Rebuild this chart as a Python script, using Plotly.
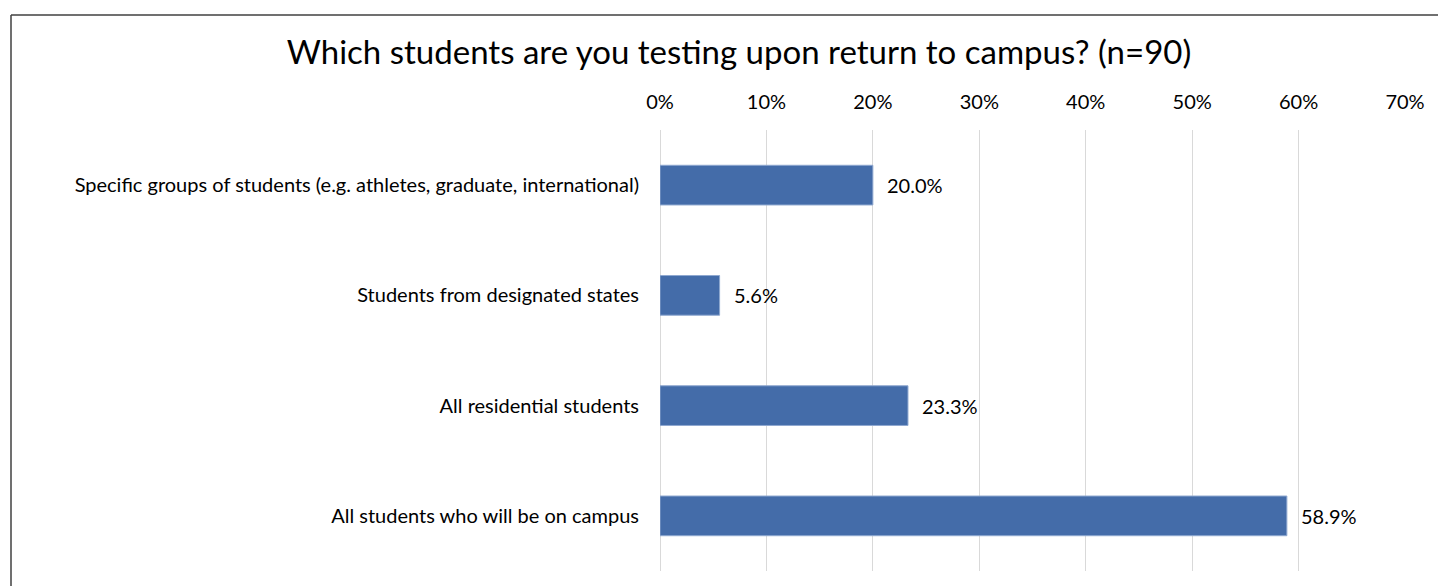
import plotly.graph_objects as go

categories = [
    "Specific groups of students (e.g. athletes, graduate, international)",
    "Students from designated states",
    "All residential students",
    "All students who will be on campus",
]
values = [20.0, 5.6, 23.3, 58.9]
tick_vals = [0, 10, 20, 30, 40, 50, 60, 70]
tick_text = ["0%", "10%", "20%", "30%", "40%", "50%", "60%", "70%"]

W, H = 1438, 586
ml, mr, mt, mb = 660, 33, 130, 15
pw = W - ml - mr
ph = H - mt - mb

FONT = "Lato"

fig = go.Figure(
    go.Bar(
        x=values,
        y=categories,
        orientation="h",
        marker=dict(color="#446CA9", line=dict(color="#8FA8D0", width=1)),
        width=0.36,
        hoverinfo="x+y",
    )
)

annotations = [
    dict(
        x=v, y=c, xref="x", yref="y",
        text=f"{v:.1f}%",
        showarrow=False,
        xanchor="left", yanchor="middle",
        xshift=12,
        font=dict(family=FONT, size=20, color="#000000"),
    )
    for c, v in zip(categories, values)
]

fig.update_layout(
    width=W,
    height=H,
    margin=dict(l=ml, r=mr, t=mt, b=mb),
    paper_bgcolor="white",
    plot_bgcolor="white",
    font=dict(family=FONT, size=20, color="#000000"),
    title=dict(
        text="Which students are you testing upon return to campus? (n=90)",
        x=739 / W,
        xanchor="center",
        y=1 - 52 / H,
        yanchor="middle",
        font=dict(family=FONT, size=33, color="#000000"),
    ),
    showlegend=False,
    annotations=annotations,
    xaxis=dict(
        side="top",
        range=[0, 70],
        tickvals=tick_vals,
        ticktext=tick_text,
        showgrid=True,
        gridcolor="#D9D9D9",
        gridwidth=1,
        zeroline=True,
        zerolinecolor="#D9D9D9",
        zerolinewidth=1,
        showline=False,
        ticks="",
        ticklabelstandoff=16,
        tickfont=dict(family=FONT, size=20, color="#000000"),
        fixedrange=True,
    ),
    yaxis=dict(
        autorange="reversed",
        showgrid=False,
        showline=False,
        ticks="",
        ticklabelstandoff=20,
        tickfont=dict(family=FONT, size=20, color="#000000"),
    ),
    shapes=[
        dict(type="line", xref="paper", yref="paper",
             x0=(11 - ml) / pw, x1=(W - ml) / pw,
             y0=(H - mb - 15) / ph, y1=(H - mb - 15) / ph,
             line=dict(color="#404040", width=1.5)),
        dict(type="line", xref="paper", yref="paper",
             x0=(11 - ml) / pw, x1=(11 - ml) / pw,
             y0=(H - mb - 15) / ph, y1=-mb / ph,
             line=dict(color="#404040", width=1.5)),
    ],
)

fig.write_html(
    "out.html",
    config={"displayModeBar": False},
    post_script="document.body.style.margin='0';document.body.style.overflow='hidden';",
)
